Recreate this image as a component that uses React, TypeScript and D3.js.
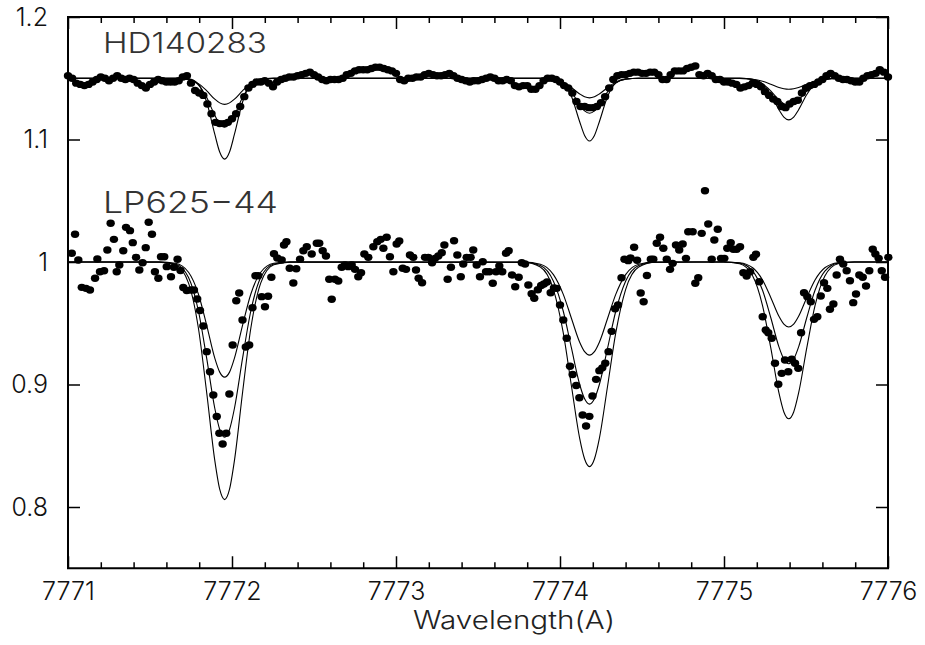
import { useEffect, useRef } from 'react';
import * as d3 from 'd3';

const W = 925;
const H = 645;

const xTicks = [7771, 7772, 7773, 7774, 7775, 7776];
const yTicks = [0.8, 0.9, 1, 1.1, 1.2];
const starLabels = ['HD140283', 'LP625\u221244'];
const xLabel = 'Wavelength(A)';

// HD140283 observed flux, one point every 0.025 A starting at 7771.000
const hdStart = 7771.0;
const hdStep = 0.025;
const hdFlux = [
  1.152, 1.150, 1.146, 1.145, 1.144, 1.145, 1.147, 1.149, 1.151, 1.150,
  1.148, 1.150, 1.152, 1.150, 1.149, 1.150, 1.149, 1.146, 1.144, 1.142,
  1.145, 1.147, 1.149, 1.148, 1.147, 1.147, 1.147, 1.148, 1.151, 1.152,
  1.146, 1.140, 1.138, 1.136, 1.129, 1.121, 1.114, 1.113, 1.113, 1.114,
  1.117, 1.121, 1.127, 1.135, 1.142, 1.145, 1.147, 1.147, 1.148, 1.146,
  1.143, 1.147, 1.149, 1.150, 1.151, 1.151, 1.152, 1.153, 1.154, 1.155,
  1.153, 1.151, 1.149, 1.148, 1.149, 1.149, 1.149, 1.150, 1.153, 1.154,
  1.156, 1.157, 1.157, 1.157, 1.158, 1.159, 1.159, 1.158, 1.157, 1.156,
  1.154, 1.149, 1.148, 1.150, 1.150, 1.151, 1.151, 1.153, 1.154, 1.153,
  1.152, 1.152, 1.153, 1.154, 1.152, 1.150, 1.149, 1.148, 1.147, 1.148,
  1.148, 1.149, 1.150, 1.151, 1.150, 1.148, 1.148, 1.149, 1.148, 1.144,
  1.143, 1.144, 1.144, 1.141, 1.141, 1.144, 1.148, 1.150, 1.150, 1.149,
  1.147, 1.144, 1.142, 1.138, 1.131, 1.127, 1.127, 1.126, 1.126, 1.127,
  1.130, 1.135, 1.142, 1.149, 1.152, 1.153, 1.153, 1.154, 1.155, 1.155,
  1.154, 1.154, 1.155, 1.155, 1.153, 1.149, 1.149, 1.153, 1.156, 1.156,
  1.156, 1.158, 1.159, 1.160, 1.153, 1.152, 1.154, 1.152, 1.149, 1.149,
  1.147, 1.147, 1.146, 1.145, 1.142, 1.143, 1.144, 1.146, 1.145, 1.143,
  1.139, 1.136, 1.133, 1.131, 1.127, 1.126, 1.129, 1.131, 1.132, 1.138,
  1.142, 1.144, 1.145, 1.147, 1.149, 1.152, 1.154, 1.152, 1.150, 1.149,
  1.149, 1.148, 1.147, 1.147, 1.150, 1.152, 1.153, 1.154, 1.157, 1.155,
  1.151,
];

// LP625-44 observed points
const lpWave = [
  7771.023, 7771.043, 7771.063, 7771.084, 7771.110, 7771.134, 7771.165, 7771.179, 7771.195, 7771.220,
  7771.240, 7771.260, 7771.280, 7771.297, 7771.313, 7771.337, 7771.354, 7771.378, 7771.395, 7771.415,
  7771.435, 7771.455, 7771.474, 7771.492, 7771.512, 7771.530, 7771.551, 7771.567, 7771.587, 7771.602,
  7771.628, 7771.646, 7771.668, 7771.686, 7771.703, 7771.724, 7771.748, 7771.768, 7771.788, 7771.805,
  7771.825, 7771.846, 7771.866, 7771.886, 7771.907, 7771.923, 7771.943, 7771.965, 7771.984, 7772.004,
  7772.026, 7772.044, 7772.064, 7772.084, 7772.105, 7772.125, 7772.143, 7772.160, 7772.181, 7772.201,
  7772.220, 7772.240, 7772.256, 7772.276, 7772.303, 7772.317, 7772.332, 7772.352, 7772.374, 7772.392,
  7772.415, 7772.435, 7772.456, 7772.486, 7772.517, 7772.532, 7772.553, 7772.573, 7772.593, 7772.608,
  7772.628, 7772.648, 7772.669, 7772.689, 7772.709, 7772.730, 7772.750, 7772.770, 7772.787, 7772.807,
  7772.831, 7772.862, 7772.886, 7772.907, 7772.923, 7772.943, 7772.963, 7772.984, 7773.004, 7773.020,
  7773.041, 7773.061, 7773.085, 7773.105, 7773.122, 7773.138, 7773.159, 7773.177, 7773.197, 7773.220,
  7773.238, 7773.258, 7773.279, 7773.295, 7773.315, 7773.335, 7773.354, 7773.374, 7773.395, 7773.410,
  7773.431, 7773.455, 7773.471, 7773.492, 7773.512, 7773.529, 7773.549, 7773.569, 7773.590, 7773.610,
  7773.630, 7773.648, 7773.671, 7773.687, 7773.707, 7773.727, 7773.748, 7773.767, 7773.787, 7773.807,
  7773.827, 7773.843, 7773.865, 7773.885, 7773.902, 7773.921, 7773.943, 7773.963, 7773.980, 7774.000,
  7774.020, 7774.041, 7774.061, 7774.077, 7774.099, 7774.118, 7774.138, 7774.159, 7774.179, 7774.198,
  7774.220, 7774.240, 7774.258, 7774.276, 7774.296, 7774.315, 7774.336, 7774.354, 7774.375, 7774.393,
  7774.416, 7774.430, 7774.452, 7774.470, 7774.492, 7774.510, 7774.530, 7774.554, 7774.569, 7774.590,
  7774.610, 7774.630, 7774.651, 7774.671, 7774.687, 7774.707, 7774.727, 7774.748, 7774.768, 7774.782,
  7774.809, 7774.825, 7774.843, 7774.864, 7774.884, 7774.904, 7774.925, 7774.941, 7774.962, 7774.982,
  7775.002, 7775.020, 7775.041, 7775.057, 7775.077, 7775.098, 7775.118, 7775.138, 7775.159, 7775.179,
  7775.195, 7775.215, 7775.236, 7775.254, 7775.270, 7775.291, 7775.311, 7775.331, 7775.352, 7775.372,
  7775.392, 7775.413, 7775.433, 7775.453, 7775.470, 7775.488, 7775.508, 7775.529, 7775.549, 7775.569,
  7775.590, 7775.610, 7775.630, 7775.646, 7775.667, 7775.687, 7775.707, 7775.727, 7775.748, 7775.768,
  7775.788, 7775.805, 7775.825, 7775.846, 7775.866, 7775.886, 7775.907, 7775.923, 7775.943, 7775.962,
  7775.982, 7776.002,
];
const lpFlux = [
  1.0071, 1.0226, 1.0016, 0.9793, 0.9785, 0.9771, 0.9867, 1.0024, 0.9921, 0.9929,
  1.0098, 1.0316, 1.0185, 0.9921, 0.9976, 1.0092, 1.0283, 1.0256, 1.0158, 1.0038,
  0.9935, 0.9994, 1.0117, 1.0324, 1.0226, 0.9921, 0.9867, 1.0043, 1.0043, 0.9962,
  0.9880, 0.9957, 1.0022, 0.9931, 0.9792, 0.9767, 0.9771, 0.9771, 0.9698, 0.9604,
  0.9478, 0.9268, 0.9104, 0.8914, 0.8739, 0.8602, 0.8514, 0.8602, 0.8922, 0.9322,
  0.9684, 0.9747, 0.9527, 0.9306, 0.9322, 0.9627, 0.9888, 0.9888, 0.9717, 0.9635,
  0.9720, 0.9875, 1.0068, 1.0033, 1.0016, 1.0139, 1.0166, 0.9949, 0.9829, 0.9945,
  1.0022, 1.0092, 1.0125, 1.0065, 1.0153, 1.0153, 1.0092, 1.0049, 0.9859, 0.9696,
  0.9859, 0.9845, 0.9957, 0.9976, 0.9962, 0.9976, 0.9940, 0.9880, 0.9913, 1.0065,
  1.0038, 1.0125, 1.0166, 1.0185, 1.0112, 1.0202, 1.0043, 0.9921, 1.0147, 1.0171,
  0.9949, 0.9940, 1.0057, 1.0038, 0.9935, 0.9867, 0.9831, 1.0038, 1.0038, 0.9994,
  1.0030, 1.0049, 1.0076, 1.0139, 0.9859, 0.9957, 1.0174, 1.0057, 0.9880, 0.9984,
  1.0038, 1.0038, 1.0098, 0.9976, 0.9880, 1.0002, 0.9921, 0.9921, 0.9826, 0.9921,
  0.9967, 0.9921, 1.0071, 1.0092, 0.9894, 0.9798, 0.9875, 0.9994, 0.9984, 0.9812,
  0.9741, 0.9704, 0.9774, 0.9808, 0.9820, 0.9837, 0.9749, 0.9788, 0.9785, 0.9649,
  0.9527, 0.9377, 0.9149, 0.9082, 0.8992, 0.8892, 0.8751, 0.8661, 0.8740, 0.8906,
  0.9042, 0.9113, 0.9136, 0.9173, 0.9268, 0.9434, 0.9618, 0.9649, 0.9871, 1.0022,
  1.0011, 1.0034, 1.0121, 1.0014, 0.9747, 0.9676, 0.9890, 1.0022, 1.0022, 1.0153,
  1.0202, 1.0112, 1.0022, 0.9940, 0.9989, 1.0139, 1.0098, 1.0147, 1.0030, 1.0247,
  1.0247, 0.9826, 0.9872, 1.0234, 1.0582, 1.0310, 1.0022, 1.0180, 1.0267, 1.0030,
  1.0030, 1.0112, 1.0158, 1.0104, 1.0104, 1.0125, 0.9913, 0.9886, 0.9921, 1.0038,
  1.0063, 0.9839, 0.9553, 0.9445, 0.9423, 0.9377, 0.9173, 0.9002, 0.9091, 0.9200,
  0.9104, 0.9206, 0.9173, 0.9132, 0.9423, 0.9749, 0.9717, 0.9676, 0.9532, 0.9553,
  0.9722, 0.9831, 0.9785, 0.9614, 0.9657, 0.9894, 1.0022, 0.9984, 0.9929, 0.9847,
  0.9668, 0.9739, 0.9894, 0.9875, 0.9804, 0.9929, 1.0104, 1.0065, 1.0030, 0.9929,
  0.9875, 1.0038,
];

// synthetic profiles (three abundances per star), sampled on modelWave
const modelWave = [
  7771.0,
  7771.555, 7771.655, 7771.735, 7771.795, 7771.845, 7771.895, 7771.925, 7771.955,
  7771.985, 7772.015, 7772.065, 7772.115, 7772.175, 7772.255, 7772.355,
  7773.78, 7773.88, 7773.96, 7774.02, 7774.07, 7774.12, 7774.15, 7774.18,
  7774.21, 7774.24, 7774.29, 7774.34, 7774.40, 7774.48, 7774.58,
  7774.995, 7775.095, 7775.175, 7775.235, 7775.285, 7775.335, 7775.365, 7775.395,
  7775.425, 7775.455, 7775.505, 7775.555, 7775.615, 7775.695, 7775.795,
  7776.0,
];
const hdModelWeak = [
  1.15,
  1.15, 1.1499, 1.1489, 1.1456, 1.1399, 1.1329, 1.1299, 1.1287, 1.1299, 1.1329, 1.1399, 1.1456, 1.1489, 1.1499, 1.15,
  1.15, 1.15, 1.1492, 1.1467, 1.1424, 1.1372, 1.1349, 1.134, 1.1349, 1.1372, 1.1424, 1.1467, 1.1492, 1.15, 1.15,
  1.15, 1.1499, 1.1492, 1.1475, 1.1451, 1.1425, 1.1414, 1.141, 1.1414, 1.1425, 1.1451, 1.1475, 1.1492, 1.1499, 1.15,
  1.15,
];
const hdModelMid = [
  1.15,
  1.15, 1.15, 1.1491, 1.1446, 1.1344, 1.1198, 1.1127, 1.110, 1.1127, 1.1198, 1.1344, 1.1446, 1.1491, 1.15, 1.15,
  1.15, 1.15, 1.1493, 1.1461, 1.1389, 1.1284, 1.1233, 1.1214, 1.1233, 1.1284, 1.1389, 1.1461, 1.1493, 1.15, 1.15,
  1.15, 1.1499, 1.1489, 1.1455, 1.1396, 1.1324, 1.1292, 1.128, 1.1292, 1.1324, 1.1396, 1.1455, 1.1489, 1.1499, 1.15,
  1.15,
];
const hdModelStrong = [
  1.15,
  1.15, 1.15, 1.1495, 1.1452, 1.1308, 1.1043, 1.0898, 1.084, 1.0898, 1.1043, 1.1308, 1.1452, 1.1495, 1.15, 1.15,
  1.15, 1.15, 1.1496, 1.1462, 1.1351, 1.1145, 1.1033, 1.0988, 1.1033, 1.1145, 1.1351, 1.1462, 1.1496, 1.15, 1.15,
  1.15, 1.15, 1.1492, 1.1454, 1.1368, 1.1243, 1.1183, 1.116, 1.1183, 1.1243, 1.1368, 1.1454, 1.1492, 1.15, 1.15,
  1.15,
];
const lpModelWeak = [
  1.0,
  1.0, 0.999, 0.9916, 0.9739, 0.9487, 0.9215, 0.9101, 0.906, 0.9101, 0.9215, 0.9487, 0.9739, 0.9916, 0.999, 1.0,
  0.9999, 0.9982, 0.9897, 0.9736, 0.9539, 0.9345, 0.9268, 0.924, 0.9268, 0.9345, 0.9539, 0.9736, 0.9897, 0.9982, 0.9999,
  1.0, 0.9994, 0.9953, 0.9853, 0.9711, 0.9557, 0.9493, 0.947, 0.9493, 0.9557, 0.9711, 0.9853, 0.9953, 0.9994, 1.0,
  1.0,
];
const lpModelMid = [
  1.0,
  1.0, 0.9984, 0.9873, 0.9602, 0.9219, 0.8806, 0.8633, 0.857, 0.8633, 0.8806, 0.9219, 0.9602, 0.9873, 0.9984, 1.0,
  0.9998, 0.9972, 0.9843, 0.9598, 0.9296, 0.9000, 0.8883, 0.884, 0.8883, 0.9000, 0.9296, 0.9598, 0.9843, 0.9972, 0.9998,
  1.0, 0.9991, 0.9926, 0.9769, 0.9547, 0.9307, 0.9207, 0.917, 0.9207, 0.9307, 0.9547, 0.9769, 0.9926, 0.9991, 1.0,
  1.0,
];
const lpModelStrong = [
  1.0,
  0.9999, 0.9978, 0.9828, 0.9461, 0.8941, 0.838, 0.8145, 0.806, 0.8145, 0.838, 0.8941, 0.9461, 0.9828, 0.9978, 0.9999,
  0.9998, 0.9959, 0.9775, 0.9421, 0.8986, 0.856, 0.8392, 0.833, 0.8392, 0.856, 0.8986, 0.9421, 0.9775, 0.9959, 0.9998,
  1.0, 0.9986, 0.9886, 0.9644, 0.9301, 0.8931, 0.8776, 0.872, 0.8776, 0.8931, 0.9301, 0.9644, 0.9886, 0.9986, 1.0,
  1.0,
];

const FONT = 'Inter, Lato, "DejaVu Sans", sans-serif';

export default function App() {
  const svgRef = useRef<SVGSVGElement>(null);

  useEffect(() => {
    const svg = d3.select(svgRef.current);
    svg.selectAll('*').remove();

    const left = 68, right = 888, top = 17, bottom = 568.25;
    const x = d3.scaleLinear().domain([7771, 7776]).range([left, right]);
    const y = d3.scaleLinear().domain([0.75, 1.2]).range([bottom, top]);

    const minorX = x.ticks(25).filter(v => Math.abs(v - Math.round(v)) > 1e-6);

    const styleAxis = (g: any) => {
      g.select('.domain').remove();
      g.selectAll('line').attr('stroke', '#000').attr('stroke-width', 1.5);
      g.attr('font-family', FONT).attr('font-size', 25).attr('font-weight', 300);
      g.selectAll('text').attr('fill', '#111');
    };

    // axes, ticks pointing inwards
    svg.append('g').attr('transform', `translate(0,${bottom})`)
      .call(d3.axisBottom(x).tickValues(xTicks).tickSize(-12).tickPadding(14).tickFormat(d3.format('d')))
      .call(styleAxis);
    svg.append('g').attr('transform', `translate(0,${bottom})`)
      .call(d3.axisBottom(x).tickValues(minorX).tickSize(-6).tickFormat(() => ''))
      .call(styleAxis);
    svg.append('g').attr('transform', `translate(0,${top})`)
      .call(d3.axisTop(x).tickValues(xTicks).tickSize(-12).tickFormat(() => ''))
      .call(styleAxis);
    svg.append('g').attr('transform', `translate(0,${top})`)
      .call(d3.axisTop(x).tickValues(minorX).tickSize(-6).tickFormat(() => ''))
      .call(styleAxis);
    svg.append('g').attr('transform', `translate(${left},0)`)
      .call(d3.axisLeft(y).tickValues(yTicks).tickSize(-12).tickPadding(20).tickFormat(d => String(d)))
      .call(styleAxis);
    svg.append('g').attr('transform', `translate(${right},0)`)
      .call(d3.axisRight(y).tickValues(yTicks).tickSize(-12).tickFormat(() => ''))
      .call(styleAxis);

    svg.append('rect')
      .attr('x', left).attr('y', top)
      .attr('width', right - left).attr('height', bottom - top)
      .attr('fill', 'none').attr('stroke', '#000').attr('stroke-width', 2);

    // model curves
    const line = d3.line<number>()
      .x((d, i) => x(modelWave[i]))
      .y(d => y(d))
      .curve(d3.curveMonotoneX);
    const models = [hdModelWeak, hdModelMid, hdModelStrong, lpModelWeak, lpModelMid, lpModelStrong];
    svg.selectAll('.model').data(models).join('path')
      .attr('class', 'model')
      .attr('d', d => line(d))
      .attr('fill', 'none')
      .attr('stroke', '#000')
      .attr('stroke-width', 1.1);

    // observed points
    const hdPts = hdFlux.map((f, i) => [hdStart + i * hdStep, f]);
    const lpPts = lpWave.map((w, i) => [w, lpFlux[i]]);
    svg.selectAll('.obs').data([...hdPts, ...lpPts]).join('ellipse')
      .attr('class', 'obs')
      .attr('cx', d => x(d[0]))
      .attr('cy', d => y(d[1]))
      .attr('rx', 4.2)
      .attr('ry', 3.7)
      .attr('fill', '#000');

    // labels
    svg.append('text')
      .attr('x', 103).attr('y', 53)
      .attr('textLength', 164).attr('lengthAdjust', 'spacingAndGlyphs')
      .attr('font-family', FONT).attr('font-size', 28).attr('font-weight', 300)
      .attr('fill', '#333').text(starLabels[0]);
    svg.append('text')
      .attr('x', 103).attr('y', 213)
      .attr('textLength', 175).attr('lengthAdjust', 'spacingAndGlyphs')
      .attr('font-family', FONT).attr('font-size', 30).attr('font-weight', 300)
      .attr('fill', '#333').text(starLabels[1]);
    svg.append('text')
      .attr('x', 514).attr('y', 629)
      .attr('text-anchor', 'middle')
      .attr('textLength', 202).attr('lengthAdjust', 'spacingAndGlyphs')
      .attr('font-family', FONT).attr('font-size', 25).attr('font-weight', 300)
      .attr('fill', '#222').text(xLabel);
  }, []);

  return (
    <svg
      ref={svgRef}
      width={W}
      height={H}
      style={{ position: 'absolute', left: 0, top: 0, background: '#fff' }}
    />
  );
}
